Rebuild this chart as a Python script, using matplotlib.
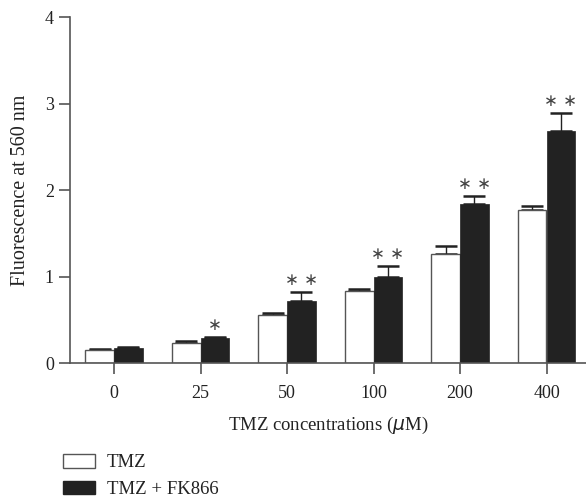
import matplotlib.pyplot as plt
import numpy as np
from matplotlib.patches import Patch

plt.rcParams['font.family'] = ['Liberation Serif', 'DejaVu Serif']

categories = ['0', '25', '50', '100', '200', '400']
tmz = [0.15, 0.23, 0.555, 0.83, 1.26, 1.77]
tmz_err = [0.01, 0.02, 0.02, 0.03, 0.09, 0.05]
tmz_fk = [0.17, 0.285, 0.72, 0.99, 1.84, 2.68]
tmz_fk_err = [0.01, 0.015, 0.10, 0.13, 0.09, 0.21]
stars = ['', '*', '**', '**', '**', '**']

AXIS_COLOR = '#555555'
DARK = '#222222'

fig = plt.figure(figsize=(5.86, 4.98), dpi=100)
ax = fig.add_axes([70 / 586, 1 - 363 / 498, 1 - 70 / 586, (363 - 17) / 498])

x = np.arange(len(categories))
w = 0.335
ax.bar(x - w / 2, tmz, w, color='white', edgecolor=AXIS_COLOR, linewidth=1.0, zorder=2)
ax.bar(x + w / 2, tmz_fk, w, color=DARK, edgecolor=DARK, linewidth=0.5, zorder=2)

# upper-only error bars
ax.errorbar(x - w / 2, tmz, yerr=[np.zeros(len(tmz)), tmz_err], fmt='none',
            ecolor=DARK, elinewidth=1.0, capsize=8, capthick=1.8, zorder=1)
ax.errorbar(x + w / 2, tmz_fk, yerr=[np.zeros(len(tmz_fk)), tmz_fk_err], fmt='none',
            ecolor=DARK, elinewidth=1.0, capsize=8, capthick=1.8, zorder=1)

for xi, v, e, s in zip(x, tmz_fk, tmz_fk_err, stars):
    if s:
        label = ' '.join('\u2217' * len(s))
        ax.text(xi + w / 2, v + e + 0.04, label, ha='center', va='bottom',
                fontsize=12, color='#444444', family='DejaVu Sans')

ax.set_xlim((70 - 114) / 86.5, (586 - 114) / 86.5)
ax.set_ylim(0, 4)
ax.set_yticks([0, 1, 2, 3, 4])
ax.set_xticks(x)
ax.set_xticklabels(categories)

for side in ['top', 'right']:
    ax.spines[side].set_visible(False)
for side in ['left', 'bottom']:
    ax.spines[side].set_color(AXIS_COLOR)
    ax.spines[side].set_linewidth(1.2)
ax.tick_params(axis='both', colors=AXIS_COLOR, labelcolor='#222222', labelsize=13,
               width=1.2, length=8, direction='out')
ax.tick_params(axis='x', pad=8)

ax.set_xlabel('TMZ concentrations ($\\mu$M)', fontsize=13.5, color='#222222', labelpad=9)
ax.set_ylabel('Fluorescence at 560 nm', fontsize=14.5, color='#222222', labelpad=11)

handles = [Patch(facecolor='white', edgecolor=AXIS_COLOR, label='TMZ'),
           Patch(facecolor=DARK, edgecolor=DARK, label='TMZ + FK866')]
leg = fig.legend(handles=handles, loc='upper left', bbox_to_anchor=(46 / 586, 1 - 437 / 498),
                 frameon=False, fontsize=13.5, handlelength=1.7, handleheight=0.75,
                 labelspacing=0.5, handletextpad=0.65)
for t in leg.get_texts():
    t.set_color('#222222')

fig.savefig('out.png', dpi=100)
